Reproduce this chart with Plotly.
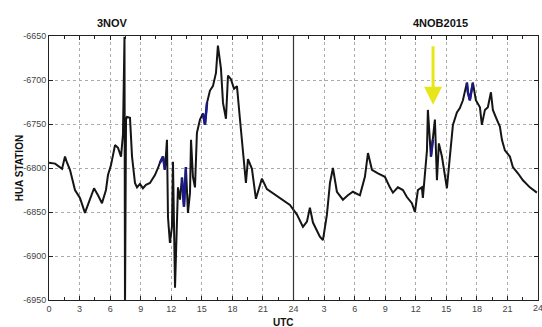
import plotly.graph_objects as go

# Hours since 00 UTC on 3 Nov 2015, and H-component values (nT) at HUA station
hours = [0, 0.6, 1.28, 1.57, 1.77, 2.06, 2.55, 3.04, 3.53, 4.02, 4.42, 4.81, 5.20, 5.59, 5.79,
         6.08, 6.48, 6.77, 7.07, 7.26, 7.41, 7.46, 7.56, 7.65, 7.95, 8.15, 8.44, 8.64, 8.93,
         9.22, 9.52, 9.91, 10.40, 10.70, 10.89, 11.19, 11.38, 11.58, 11.68, 11.87, 12.07,
         12.17, 12.37, 12.66, 12.86, 13.05, 13.25, 13.44, 13.64, 13.84, 13.94, 14.13, 14.33,
         14.52, 14.82, 15.11, 15.31, 15.51, 15.80, 16.09, 16.39, 16.58, 16.88, 17.08, 17.37,
         17.57, 17.86, 18.16, 18.45, 18.74, 19.04, 19.33, 19.53, 19.92, 20.31, 20.61, 20.90,
         21.39, 21.88, 22.47, 22.96, 23.65, 24.34, 24.93, 25.32, 25.61, 25.91, 26.59, 26.89,
         27.28, 27.58, 27.87, 28.26, 28.85, 29.34, 29.83, 30.52, 31.01, 31.31, 31.70, 32.29,
         32.97, 33.46, 33.76, 34.25, 34.74, 35.13, 35.62, 35.92, 36.21, 36.60, 36.70, 37.10,
         37.19, 37.49, 37.68, 37.88, 38.08, 38.27, 38.57, 38.86, 39.06, 39.35, 39.65, 40.04,
         40.33, 40.63, 41.02, 41.12, 41.31, 41.61, 41.90, 42.30, 42.49, 42.79, 43.08, 43.38,
         43.57, 43.96, 44.26, 44.46, 44.75, 45.24, 45.53, 46.03, 46.52, 47.20, 47.89]
values = [-6794, -6795, -6801, -6787, -6794, -6802, -6825, -6834, -6851, -6836, -6823, -6831,
          -6840, -6825, -6808, -6797, -6774, -6777, -6787, -6762, -6651, -6960, -6745, -6742,
          -6743, -6787, -6817, -6822, -6818, -6823, -6819, -6817, -6808, -6800, -6794, -6787,
          -6802, -6768, -6856, -6885, -6867, -6793, -6936, -6822, -6836, -6811, -6844, -6799,
          -6851, -6828, -6768, -6810, -6822, -6760, -6745, -6738, -6751, -6726, -6712, -6707,
          -6692, -6661, -6687, -6726, -6744, -6695, -6699, -6710, -6707, -6744, -6778, -6817,
          -6790, -6801, -6835, -6824, -6812, -6824, -6828, -6832, -6837, -6842, -6853, -6867,
          -6861, -6845, -6862, -6878, -6882, -6853, -6817, -6800, -6827, -6836, -6831, -6827,
          -6831, -6810, -6783, -6802, -6806, -6810, -6822, -6828, -6822, -6825, -6833, -6840,
          -6850, -6825, -6822, -6834, -6780, -6734, -6787, -6768, -6745, -6814, -6772, -6787,
          -6810, -6823, -6787, -6751, -6737, -6732, -6723, -6703, -6714, -6723, -6703, -6723,
          -6731, -6751, -6734, -6731, -6714, -6734, -6745, -6753, -6768, -6780, -6787, -6799,
          -6806, -6814, -6822, -6828]

# Blue-highlighted stretches (hours, values); None breaks the line
blue_hours = [10.89, 11.19, 11.38, None, 13.05, 13.25, 13.44, None, 15.11, 15.31, 15.51, None,
              37.49, 37.68, None, 41.02, 41.12, 41.31, 41.61]
blue_values = [-6794, -6787, -6802, None, -6811, -6844, -6799, None, -6738, -6751, -6726, None,
               -6787, -6768, None, -6703, -6714, -6723, -6703]

x_tickvals = list(range(0, 49, 3))
x_ticktext = ["0", "3", "6", "9", "12", "15", "18", "21", "24",
              "3", "6", "9", "12", "15", "18", "21", "24"]
y_tickvals = [-6950, -6900, -6850, -6800, -6750, -6700, -6650]
y_ticktext = ["-6950", "-6900", "-6850", "-6800", "-6750", "-6700", "-6650"]

day_boundary = 24
arrow_hour = 37.7
arrow_tip = -6728
arrow_tail = -6660

fig = go.Figure()
fig.add_trace(go.Scatter(x=hours, y=values, mode="lines",
                         line=dict(color="#151515", width=2), hoverinfo="skip"))
fig.add_trace(go.Scatter(x=blue_hours, y=blue_values, mode="lines",
                         line=dict(color="#1a1a8c", width=2.5), connectgaps=False, hoverinfo="skip"))

fig.add_shape(type="line", x0=day_boundary, x1=day_boundary, y0=0, y1=1,
              xref="x", yref="paper", line=dict(color="#333", width=1.2))

fig.add_annotation(x=arrow_hour, y=arrow_tip, ax=arrow_hour, ay=arrow_tail,
                   xref="x", yref="y", axref="x", ayref="y", showarrow=True,
                   arrowhead=2, arrowsize=1.2, arrowwidth=3, arrowcolor="#e6e61a", text="")

font_b = dict(family="Liberation Sans, Arial", size=11, color="#111")
fig.add_annotation(text="<b>3NOV</b>", x=0.094, y=1.08, xref="paper", yref="paper",
                   showarrow=False, font=font_b)
fig.add_annotation(text="<b>4NOB2015</b>", x=0.861, y=1.08, xref="paper", yref="paper",
                   showarrow=False, font=font_b)
fig.add_annotation(text="<b>HUA STATION</b>", x=-0.076, y=0.5, xref="paper", yref="paper",
                   showarrow=False, textangle=-90, font=dict(family="Liberation Sans, Arial", size=10, color="#111"))
fig.add_annotation(text="<b>UTC</b>", x=0.479, y=-0.058, xref="paper", yref="paper",
                   yanchor="top", showarrow=False,
                   font=dict(family="Liberation Sans, Arial", size=10, color="#111"))

tickfont = dict(family="Liberation Sans Narrow, Liberation Sans, Arial", size=9, color="#444")

# the last x tick label sits on the figure edge, where Plotly drops it; draw it as text
fig.add_annotation(text=x_ticktext[-1], x=1.0, y=0, xref="paper", yref="paper",
                   xanchor="center", yanchor="top", yshift=-1, showarrow=False, font=tickfont)

fig.update_xaxes(range=[0, 48], tickvals=x_tickvals[:-1], ticktext=x_ticktext[:-1], automargin=False,
                 showgrid=True, gridcolor="#aaaaaa", griddash="dot", gridwidth=1,
                 showline=True, linecolor="#222", linewidth=1, mirror="allticks",
                 ticks="inside", ticklen=4, tickcolor="#222", tickfont=tickfont,
                 minor=dict(ticks="inside", dtick=1.5, tick0=0, ticklen=3, tickcolor="#222", showgrid=False),
                 zeroline=False)
fig.update_yaxes(range=[-6950, -6650], tickvals=y_tickvals, ticktext=y_ticktext, automargin=False,
                 showgrid=True, gridcolor="#aaaaaa", griddash="dot", gridwidth=1,
                 showline=True, linecolor="#222", linewidth=1, mirror="allticks",
                 ticks="inside", ticklen=4, tickcolor="#222", tickfont=tickfont,
                 zeroline=False)

fig.update_layout(width=542, height=327, margin=dict(l=49, r=4, t=36, b=27, autoexpand=False),
                  paper_bgcolor="white", plot_bgcolor="white", showlegend=False)

# remove the default page margin so the figure fills the window exactly
fig.write_html("out.html", config={"displayModeBar": False},
               post_script="document.body.style.margin='0';document.body.style.overflow='hidden';")
